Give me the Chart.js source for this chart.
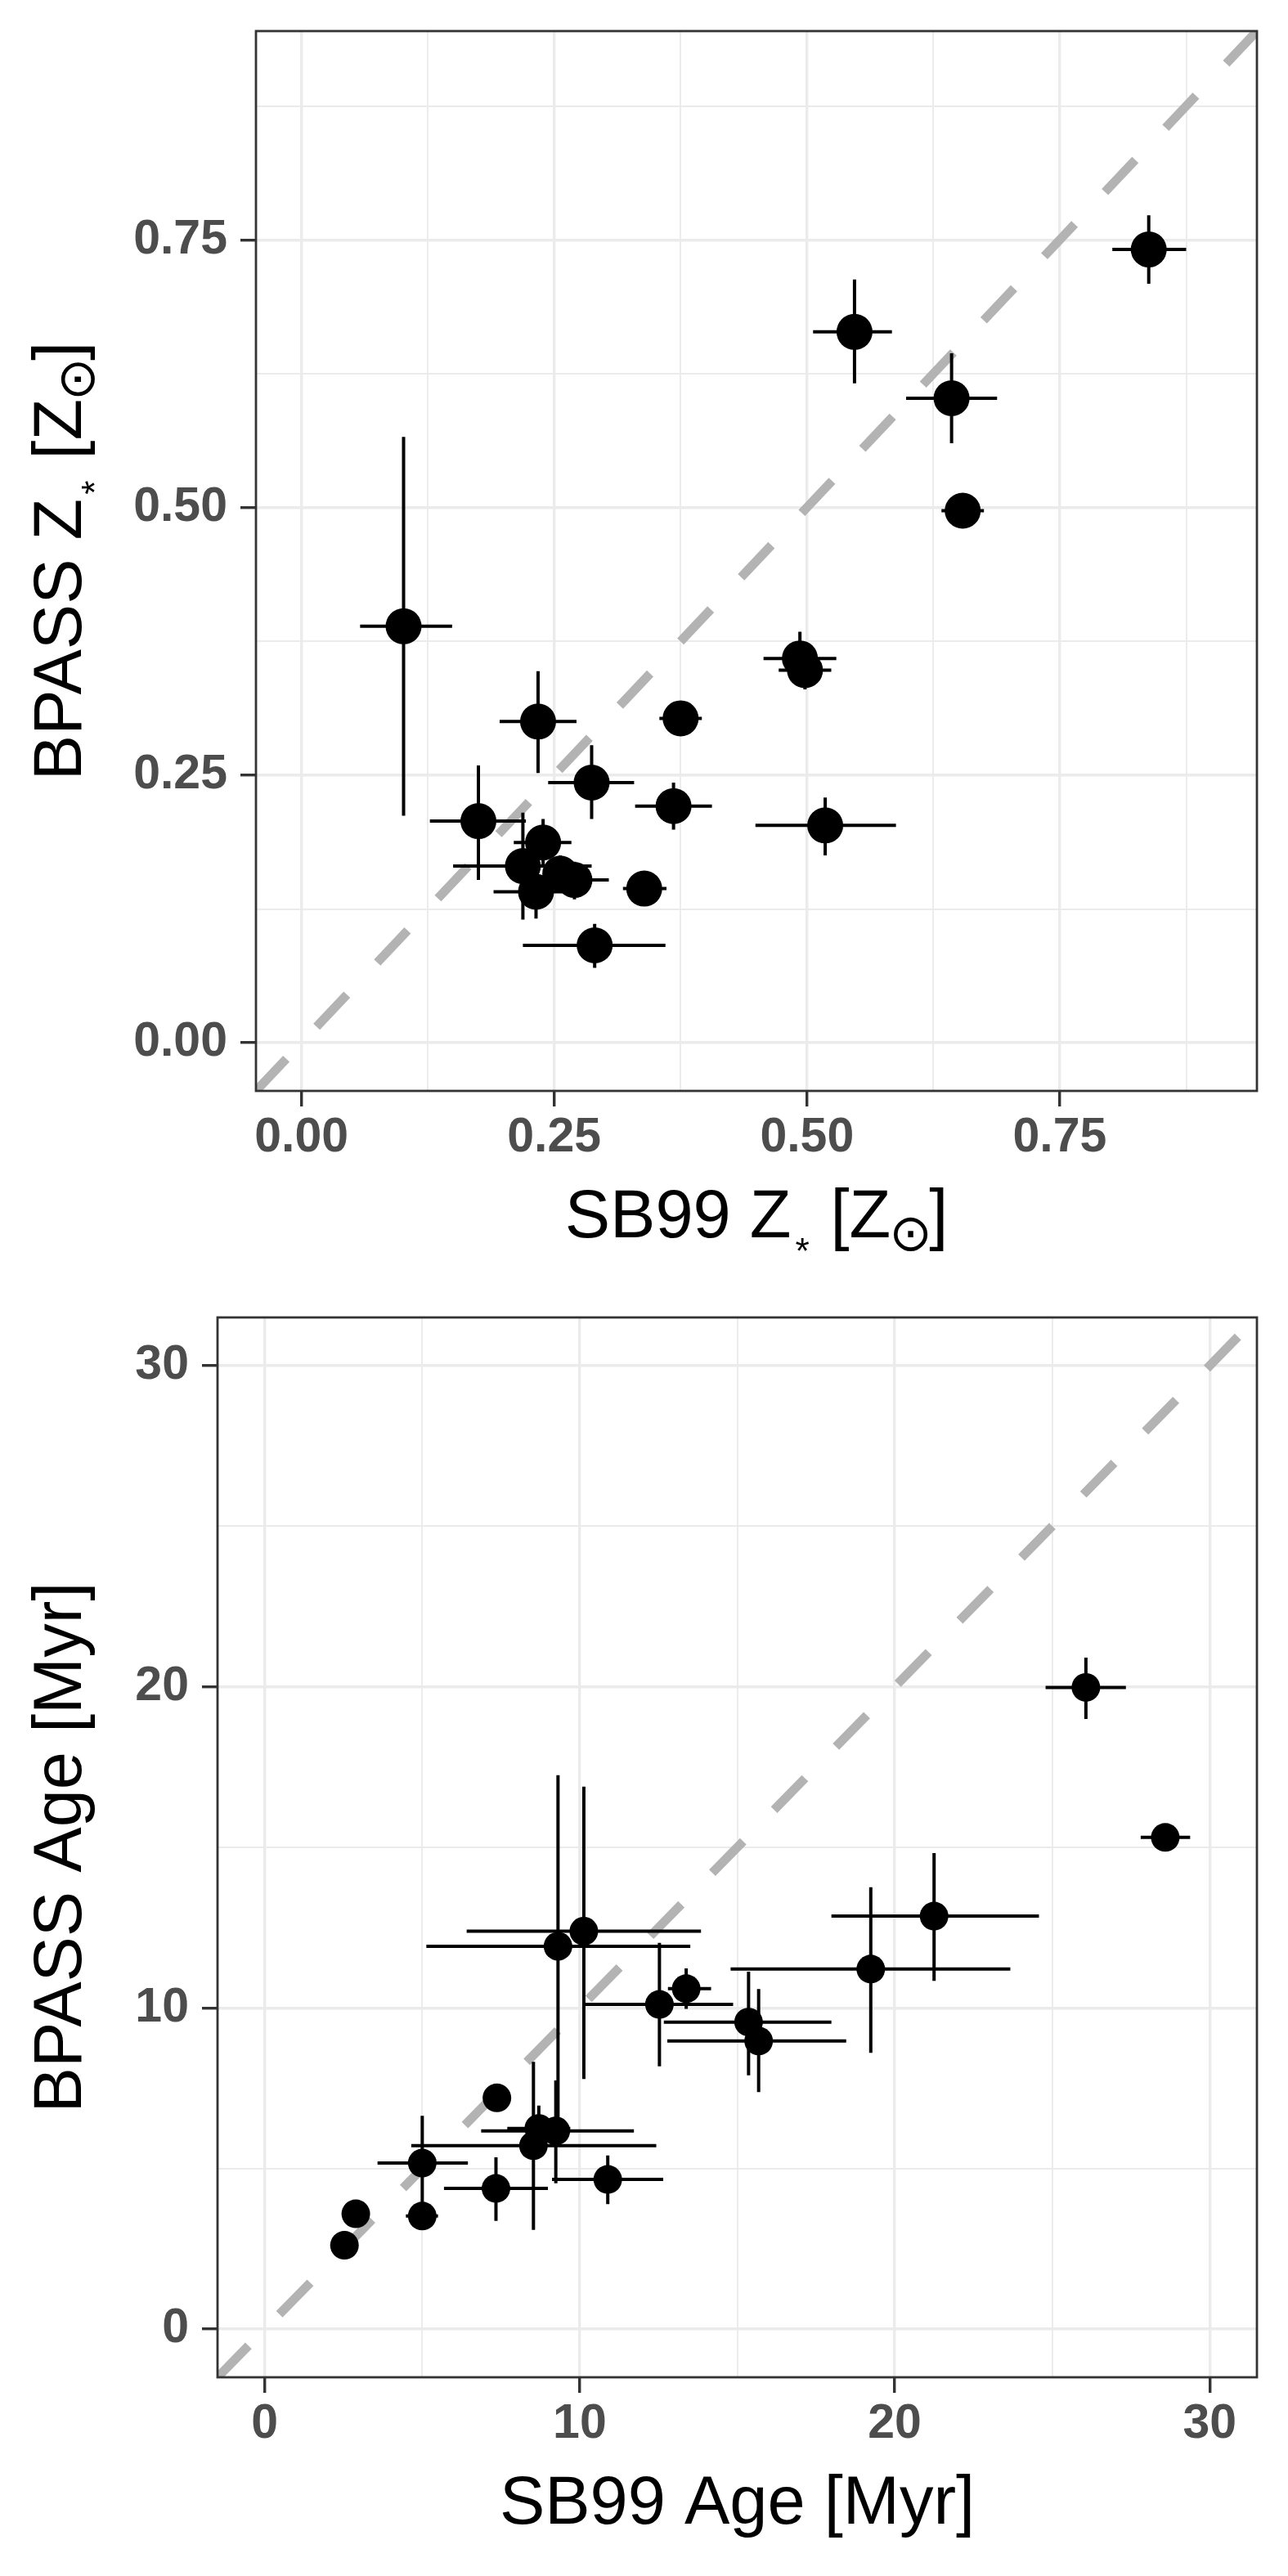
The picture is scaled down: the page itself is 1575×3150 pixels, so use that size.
<!DOCTYPE html>
<html>
<head>
<meta charset="utf-8">
<script src="https://cdn.jsdelivr.net/npm/chart.js@4.4.1/dist/chart.umd.min.js"></script>
<style>
html, body { margin:0; padding:0; background:#ffffff; }
.wrap { position:absolute; left:0; width:1575px; height:1575px; }
canvas { display:block; }
</style>
</head>
<body>
<div class="wrap" style="top:0px"><canvas id="c1" width="1575" height="1575"></canvas></div>
<div class="wrap" style="top:1575px"><canvas id="c2" width="1575" height="1575"></canvas></div>
<script>
// ---------------- DATA: metallicity panel ----------------
const sbZ   = [0.101, 0.175, 0.219, 0.234, 0.239, 0.232, 0.256, 0.270, 0.287, 0.290, 0.339, 0.368, 0.375, 0.493, 0.498, 0.518, 0.547, 0.643, 0.654, 0.838];
const bpZ   = [0.389, 0.207, 0.165, 0.300, 0.187, 0.141, 0.158, 0.152, 0.243, 0.091, 0.144, 0.221, 0.303, 0.359, 0.348, 0.203, 0.664, 0.602, 0.497, 0.741];
const sbZlo = [0.058, 0.127, 0.150, 0.196, 0.210, 0.190, 0.240, 0.235, 0.244, 0.219, 0.318, 0.330, 0.354, 0.457, 0.472, 0.449, 0.506, 0.598, 0.633, 0.802];
const sbZhi = [0.149, 0.222, 0.287, 0.272, 0.267, 0.265, 0.270, 0.304, 0.329, 0.360, 0.361, 0.406, 0.396, 0.529, 0.524, 0.588, 0.584, 0.688, 0.675, 0.875];
const bpZlo = [0.212, 0.152, 0.115, 0.252, 0.164, 0.116, 0.140, 0.134, 0.209, 0.070, 0.132, 0.199, 0.290, 0.340, 0.330, 0.175, 0.616, 0.560, 0.487, 0.709];
const bpZhi = [0.566, 0.259, 0.215, 0.347, 0.209, 0.165, 0.175, 0.169, 0.278, 0.111, 0.156, 0.243, 0.316, 0.384, 0.360, 0.229, 0.713, 0.644, 0.507, 0.773];
const zTicks      = [0, 0.25, 0.5, 0.75];
const zTickLabels = ['0.00', '0.25', '0.50', '0.75'];
const zGrid       = [0, 0.125, 0.25, 0.375, 0.5, 0.625, 0.75, 0.875];
const zLine       = [-0.045, 0.945];   // one-to-one line end points

// ---------------- DATA: age panel ----------------
const sbAge   = [2.53, 2.89, 5.00, 5.00, 7.34, 7.37, 8.53, 8.70, 9.24, 9.31, 10.13, 10.89, 12.53, 13.38, 15.36, 15.68, 19.24, 21.25, 26.07, 28.59];
const bpAge   = [2.61, 3.59, 3.52, 5.17, 4.38, 7.20, 5.71, 6.25, 6.17, 11.92, 12.39, 4.66, 10.11, 10.60, 9.56, 8.97, 11.21, 12.86, 19.98, 15.31];
const sbAgeLo = [null, null, 4.48, 3.58, 5.69, null, 4.65, 7.70, 6.87, 5.13, 6.41, 9.12, 10.13, 12.80, 12.67, 12.78, 14.79, 17.99, 24.79, 27.81];
const sbAgeHi = [null, null, 5.50, 6.45, 8.99, null, 12.43, 9.70, 11.72, 13.51, 13.85, 12.65, 14.87, 14.17, 17.99, 18.46, 23.67, 24.58, 27.34, 29.38];
const bpAgeLo = [null, null, 3.40, 3.60, 3.37, null, 3.09, 5.60, 4.54, 6.30, 7.79, 3.89, 8.18, 9.97, 7.90, 7.38, 8.60, 10.84, 19.00, 15.00];
const bpAgeHi = [null, null, 3.65, 6.64, 5.35, null, 8.32, 6.96, 7.74, 17.25, 16.89, 5.41, 12.03, 11.23, 11.13, 10.59, 13.76, 14.82, 20.91, 15.60];
const ageTicks      = [0, 10, 20, 30];
const ageTickLabels = ['0', '10', '20', '30'];
const ageGrid       = [0, 5, 10, 15, 20, 25, 30];
const ageLine       = [-1.5, 31.5];

// ---------------- helpers ----------------
const FAMILY = '"Liberation Sans", Arial, Helvetica, "DejaVu Sans", sans-serif';
const TITLE_SIZE = 83;

function axisCfg(min, max, gridVals, majorVals, labels, labelPad, fitSize, isX) {
  const isMajor = v => majorVals.some(m => Math.abs(m - v) < 1e-9);
  return {
    type: 'linear', min: min, max: max,
    afterBuildTicks: s => { s.ticks = gridVals.map(v => ({ value: v })); },
    afterFit: s => {
      if (isX) { s.height = fitSize; s.paddingLeft = 0; s.paddingRight = 0; }
      else { s.width = fitSize; s.paddingTop = 0; s.paddingBottom = 0; }
    },
    ticks: {
      autoSkip: false, maxRotation: 0, minRotation: 0, padding: labelPad,
      color: '#4D4D4D',
      font: { family: FAMILY, size: 59, weight: 'bold', lineHeight: 1.2 },
      callback: v => { const i = majorVals.findIndex(m => Math.abs(m - v) < 1e-9); return i >= 0 ? labels[i] : ''; }
    },
    grid: {
      display: true, drawOnChartArea: true, drawTicks: true, tickLength: 19,
      color: '#EBEBEB',
      lineWidth: c => (c.tick && isMajor(c.tick.value)) ? 3.4 : 1.9,
      tickColor: c => (c.tick && isMajor(c.tick.value)) ? '#333333' : 'rgba(0,0,0,0)',
      tickWidth: 3.4
    },
    border: { display: false },
    title: { display: false }
  };
}

function makeErrorBars(dsIndex, xs, ys, xlo, xhi, ylo, yhi, width) {
  return {
    id: 'errbars' + dsIndex,
    beforeDatasetDraw(chart, args) {
      if (args.index !== dsIndex) return;
      const { ctx, chartArea } = chart;
      const sx = chart.scales.x, sy = chart.scales.y;
      ctx.save();
      ctx.beginPath();
      ctx.rect(chartArea.left, chartArea.top, chartArea.width, chartArea.height);
      ctx.clip();
      ctx.strokeStyle = '#000000';
      ctx.lineWidth = width;
      ctx.lineCap = 'butt';
      ctx.beginPath();
      for (let i = 0; i < xs.length; i++) {
        if (xlo[i] != null && xhi[i] != null) {
          const py = sy.getPixelForValue(ys[i]);
          ctx.moveTo(sx.getPixelForValue(xlo[i]), py);
          ctx.lineTo(sx.getPixelForValue(xhi[i]), py);
        }
        if (ylo[i] != null && yhi[i] != null) {
          const px = sx.getPixelForValue(xs[i]);
          ctx.moveTo(px, sy.getPixelForValue(ylo[i]));
          ctx.lineTo(px, sy.getPixelForValue(yhi[i]));
        }
      }
      ctx.stroke();
      ctx.restore();
    }
  };
}

function fontAt(px) { return px + 'px ' + FAMILY; }

function layoutRich(ctx, parts) {
  let cur = 0;
  const items = [];
  for (const p of parts) {
    if (!p.sub) {
      const f = fontAt(TITLE_SIZE);
      ctx.font = f;
      const w = ctx.measureText(p.t).width;
      items.push({ t: p.t, font: f, x: cur, y: 0 });
      cur += w;
    } else {
      ctx.font = fontAt(100);
      const m0 = ctx.measureText(p.t);
      const h0 = m0.actualBoundingBoxAscent + m0.actualBoundingBoxDescent;
      const size = Math.max(8, 100 * p.height / h0);
      const f = fontAt(size);
      ctx.font = f;
      const m = ctx.measureText(p.t);
      const left = cur + p.gapL;
      items.push({ t: p.t, font: f, x: left + m.actualBoundingBoxLeft, y: p.bottom - m.actualBoundingBoxDescent });
      cur = left + m.actualBoundingBoxLeft + m.actualBoundingBoxRight + p.gapR;
    }
  }
  return { items: items, width: cur };
}

function drawRich(ctx, parts, cx, cy, rotate) {
  ctx.save();
  ctx.translate(cx, cy);
  if (rotate) ctx.rotate(-Math.PI / 2);
  const L = layoutRich(ctx, parts);
  ctx.fillStyle = '#000000';
  ctx.textBaseline = 'alphabetic';
  ctx.textAlign = 'left';
  for (const it of L.items) {
    ctx.font = it.font;
    ctx.fillText(it.t, it.x - L.width / 2, it.y);
  }
  ctx.restore();
}

function makeFrameAndTitles(xParts, yParts) {
  return {
    id: 'frameTitles',
    afterDraw(chart) {
      const { ctx, chartArea } = chart;
      ctx.save();
      ctx.strokeStyle = '#333333';
      ctx.lineWidth = 2.8;
      ctx.strokeRect(chartArea.left, chartArea.top, chartArea.width, chartArea.height);
      ctx.restore();
      drawRich(ctx, xParts, (chartArea.left + chartArea.right) / 2, chartArea.bottom + 179, false);
      drawRich(ctx, yParts, 99, (chartArea.top + chartArea.bottom) / 2, true);
    }
  };
}

function buildChart(canvasId, cfg) {
  const pts = cfg.xs.map((v, i) => ({ x: v, y: cfg.ys[i] }));
  const linePts = cfg.line.map(v => ({ x: v, y: v }));
  return new Chart(document.getElementById(canvasId), {
    type: 'scatter',
    data: {
      datasets: [
        {
          type: 'line', data: linePts, order: 2,
          borderColor: '#B3B3B3', borderWidth: 11, borderDash: [54, 54], borderCapStyle: 'butt',
          pointRadius: 0, fill: false, tension: 0, clip: 0
        },
        {
          type: 'scatter', data: pts, order: 1,
          pointRadius: cfg.radius, pointHoverRadius: cfg.radius,
          pointBackgroundColor: '#000000', pointBorderWidth: 0, borderColor: '#000000'
        }
      ]
    },
    options: {
      responsive: false, maintainAspectRatio: false, devicePixelRatio: 1,
      animation: false, events: [],
      layout: { autoPadding: false, padding: { top: cfg.padTop, right: 38, left: 0, bottom: 0 } },
      plugins: { legend: { display: false }, tooltip: { enabled: false }, title: { display: false } },
      scales: {
        x: axisCfg(cfg.line[0], cfg.line[1], cfg.grid, cfg.ticks, cfg.labels, 3, 1575 - cfg.bottom, true),
        y: axisCfg(cfg.line[0], cfg.line[1], cfg.grid, cfg.ticks, cfg.labels, 16, cfg.left, false)
      }
    },
    plugins: [
      makeErrorBars(1, cfg.xs, cfg.ys, cfg.xlo, cfg.xhi, cfg.ylo, cfg.yhi, 4),
      makeFrameAndTitles(cfg.xTitle, cfg.yTitle)
    ]
  });
}

const astPart = { t: '*', sub: true, height: 16, bottom: 17, gapL: 5, gapR: 3 };
const sunPart = { t: '\u2299', sub: true, height: 42, bottom: 17, gapL: 3, gapR: 2 };

buildChart('c1', {
  xs: sbZ, ys: bpZ, xlo: sbZlo, xhi: sbZhi, ylo: bpZlo, yhi: bpZhi,
  line: zLine, grid: zGrid, ticks: zTicks, labels: zTickLabels,
  radius: 22, padTop: 38, left: 313, bottom: 1334,
  xTitle: [{ t: 'SB99 Z' }, astPart, { t: ' [Z' }, sunPart, { t: ']' }],
  yTitle: [{ t: 'BPASS Z' }, astPart, { t: ' [Z' }, sunPart, { t: ']' }]
});

buildChart('c2', {
  xs: sbAge, ys: bpAge, xlo: sbAgeLo, xhi: sbAgeHi, ylo: bpAgeLo, yhi: bpAgeHi,
  line: ageLine, grid: ageGrid, ticks: ageTicks, labels: ageTickLabels,
  radius: 17.5, padTop: 36, left: 266, bottom: 1332,
  xTitle: [{ t: 'SB99 Age [Myr]' }],
  yTitle: [{ t: 'BPASS Age [Myr]' }]
});
</script>
</body>
</html>
